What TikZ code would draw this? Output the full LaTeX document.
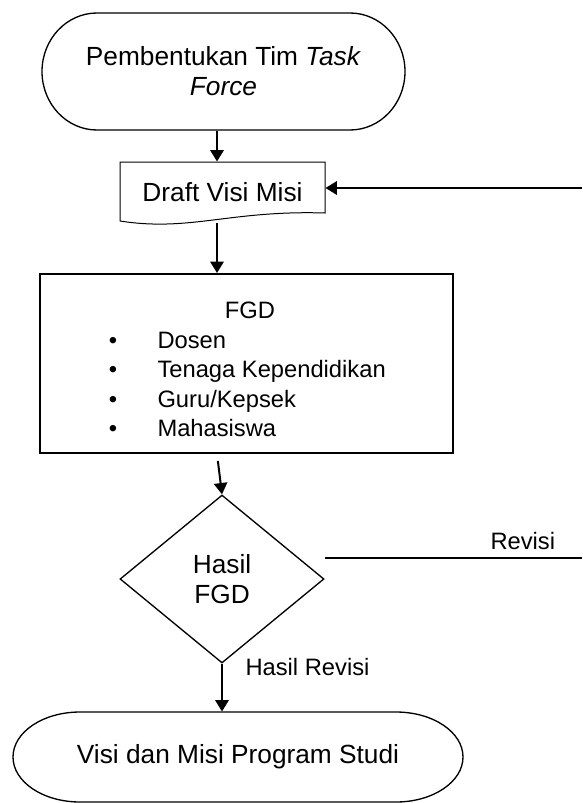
\documentclass[tikz,border=0pt]{standalone}
\usepackage{fontspec}
\setmainfont{Liberation Sans}
\usetikzlibrary{shapes.geometric,arrows.meta}

\tikzset{every picture/.style={line width=0.75pt}}
\tikzset{
  bigtext/.style={font=\fontsize{19.7}{22.5}\selectfont},
  smalltext/.style={font=\fontsize{17.8}{21.9}\selectfont},
  flowarrow/.style={line width=1.5pt,-{Triangle[length=8.5pt,width=10pt]}},
}

\begin{document}
\begin{tikzpicture}[x=0.75pt,y=0.75pt,yscale=-1,xscale=1]
\useasboundingbox (0,0) rectangle (582,803);

%Shape: Terminal [id:tf]
\draw [line width=1pt] (97,13) -- (350,13) arc[start angle=-90,end angle=90,x radius=55,y radius=58.5] -- (97,130) arc[start angle=90,end angle=270,x radius=55,y radius=58.5] -- cycle ;
\node [bigtext, align=center, inner sep=0pt, minimum width=272.25pt, minimum height=87.75pt] (tf) at (223.5,71.5) {Pembentukan Tim \textit{Task}\\\textit{Force}};

%Shape: Document [id:dv]
\draw [line width=0.75pt] (120,162) -- (325,162) -- (325,213) .. controls (230,210) and (190,232) .. (120,221) -- cycle ;
\node [bigtext, inner sep=0pt, minimum width=153.75pt, minimum height=45pt] (dv) at (222.5,192) {Draft Visi Misi};

%Shape: Rectangle [id:fgd]
\node [draw, line width=1.5pt, inner sep=0pt, minimum width=309.75pt, minimum height=134.25pt] (fgd) at (246.5,363.5) {};
% Text Node
\node [smalltext, anchor=base, inner sep=0pt] (fgdtitle) at (250,318.5) {FGD};
\foreach \who [count=\i] in {Dosen, Tenaga Kependidikan, {Guru/Kepsek}, Mahasiswa}{
  \node [smalltext, anchor=base, inner sep=0pt] (fgdb\i) at (113,{348.5+29.3*(\i-1)}) {\textbullet};
  \node [smalltext, anchor=base west, inner sep=0pt] (fgdm\i) at (157,{348.5+29.3*(\i-1)}) {\who};
}

%Shape: Diamond [id:hf]
\node [draw, diamond, line width=1pt, bigtext, align=center, inner sep=0pt, minimum width=153pt, minimum height=126pt] (hf) at (222,579) {Hasil\\FGD};

%Shape: Terminal [id:vm]
\draw [line width=1pt] (80,712) -- (396,712) arc[start angle=-90,end angle=90,x radius=67,y radius=45] -- (80,802) arc[start angle=90,end angle=270,x radius=67,y radius=45] -- cycle ;
\node [bigtext, inner sep=0pt, minimum width=337.5pt, minimum height=67.5pt] (vm) at (238,757) {Visi dan Misi Program Studi};

% Connectors
\coordinate (axis) at (217,0);
\coordinate (revend) at (582,558);
\coordinate (revtop) at (582,188);
\draw [flowarrow] (tf.south -| axis) -- (dv.north -| axis);
\draw [flowarrow] (dv.south -| axis) -- (fgd.north -| axis);
\draw [flowarrow, shorten <=5.25pt] (fgd.south -| axis) -- (hf.north);
\draw [flowarrow] (hf.south) -- (hf.south |- vm.north);
\draw [line width=1pt] (hf.east |- revend) -- node [pos=0.77, above=4pt, inner sep=2pt, smalltext] (revlabel) {Revisi} (revend);
\draw [flowarrow] (revtop) -- (dv.east |- revtop);

% Text Node
\node [smalltext, anchor=base west, inner sep=0pt] (hrlabel) at (245,675.5) {Hasil Revisi};

\end{tikzpicture}
\end{document}
